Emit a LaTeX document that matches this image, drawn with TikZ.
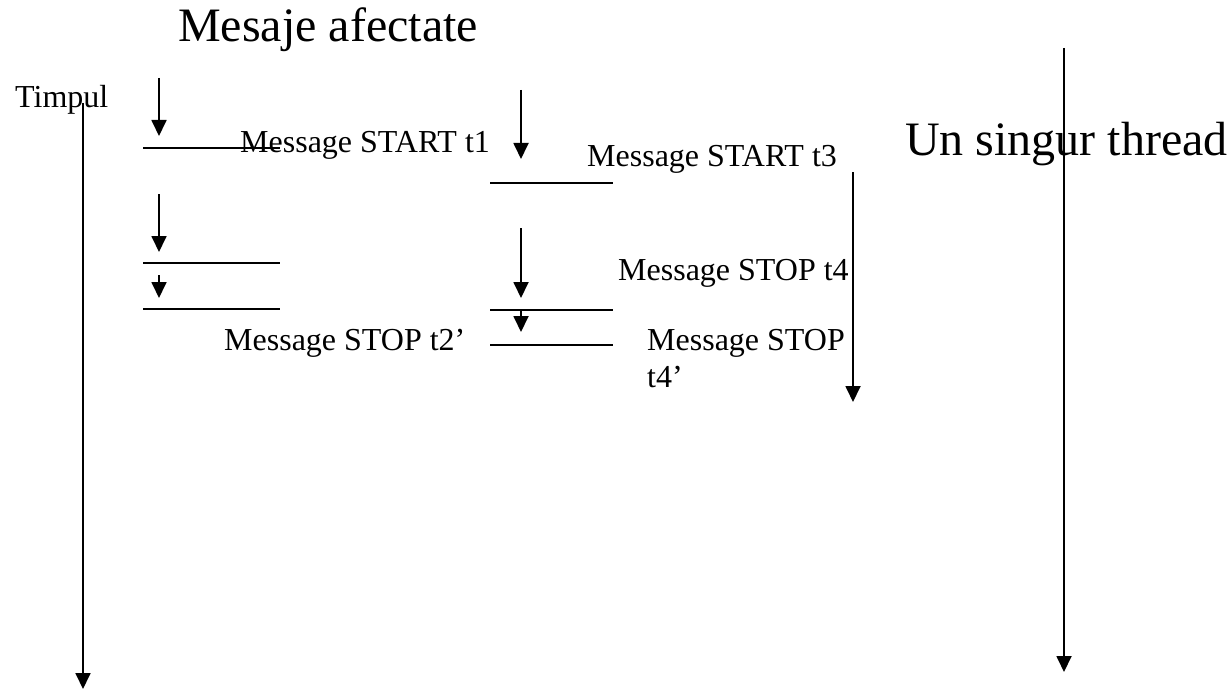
\documentclass[tikz,border=0pt]{standalone}
\usepackage{fontspec}
\setmainfont{Liberation Serif}
\usetikzlibrary{arrows.meta}
\tikzset{
  flow/.style={line width=1.8pt,-{Triangle[width=15pt,length=16pt]}},
  bar/.style={line width=1.8pt},
  small/.style={anchor=base west,inner sep=0pt,font=\fontsize{32}{38}\selectfont},
  big/.style={anchor=base west,inner sep=0pt,font=\fontsize{48}{56}\selectfont},
}
\begin{document}
\begin{tikzpicture}[x=1pt,y=-1pt]
\useasboundingbox (0,0) rectangle (1231,690);
% coordinates
\coordinate (ts) at (83,103);   \coordinate (te) at (83,689);
\coordinate (a1s) at (159,78);  \coordinate (a1e) at (159,136);
\coordinate (l1a) at (143,148); \coordinate (l1b) at (280,148);
\coordinate (a2s) at (159,194); \coordinate (a2e) at (159,252);
\coordinate (l2a) at (143,263); \coordinate (l2b) at (280,263);
\coordinate (a3s) at (159,275); \coordinate (a3e) at (159,298);
\coordinate (l3a) at (143,309); \coordinate (l3b) at (280,309);
\coordinate (m1s) at (521,90);  \coordinate (m1e) at (521,159);
\coordinate (n1a) at (490,183); \coordinate (n1b) at (613,183);
\coordinate (m2s) at (521,228); \coordinate (m2e) at (521,298);
\coordinate (n2a) at (490,310); \coordinate (n2b) at (613,310);
\coordinate (m3s) at (521,310); \coordinate (m3e) at (521,332);
\coordinate (n3a) at (490,345); \coordinate (n3b) at (613,345);
\coordinate (rs) at (853,172);  \coordinate (re) at (853,402);
\coordinate (us) at (1064,48);  \coordinate (ue) at (1064,672);
% texts
\node[big]   (title)  at (178,42)  {Mesaje afectate};
\node[small] (timpul) at (15,108)  {Timpul};
\node[small] (st1)    at (240,153) {Message START t1};
\node[small] (st3)    at (587,166) {Message START t3};
\node[small] (sp4)    at (618,280) {Message STOP t4};
\node[small] (sp2)    at (224,350) {Message STOP t2’};
\node[small] (sp4a)   at (647,350) {Message STOP};
\node[small] (sp4b)   at (647,387) {t4’};
\node[big]   (single) at (905,155) {Un singur thread};
% arrows and bars
\draw[flow] (ts) -- (te);
\draw[flow] (a1s) -- (a1e);
\draw[bar]  (l1a) -- (l1b);
\draw[flow] (a2s) -- (a2e);
\draw[bar]  (l2a) -- (l2b);
\draw[flow] (a3s) -- (a3e);
\draw[bar]  (l3a) -- (l3b);
\draw[flow] (m1s) -- (m1e);
\draw[bar]  (n1a) -- (n1b);
\draw[flow] (m2s) -- (m2e);
\draw[bar]  (n2a) -- (n2b);
\draw[flow] (m3s) -- (m3e);
\draw[bar]  (n3a) -- (n3b);
\draw[flow] (rs) -- (re);
\draw[flow] (us) -- (ue);
\end{tikzpicture}
\end{document}
